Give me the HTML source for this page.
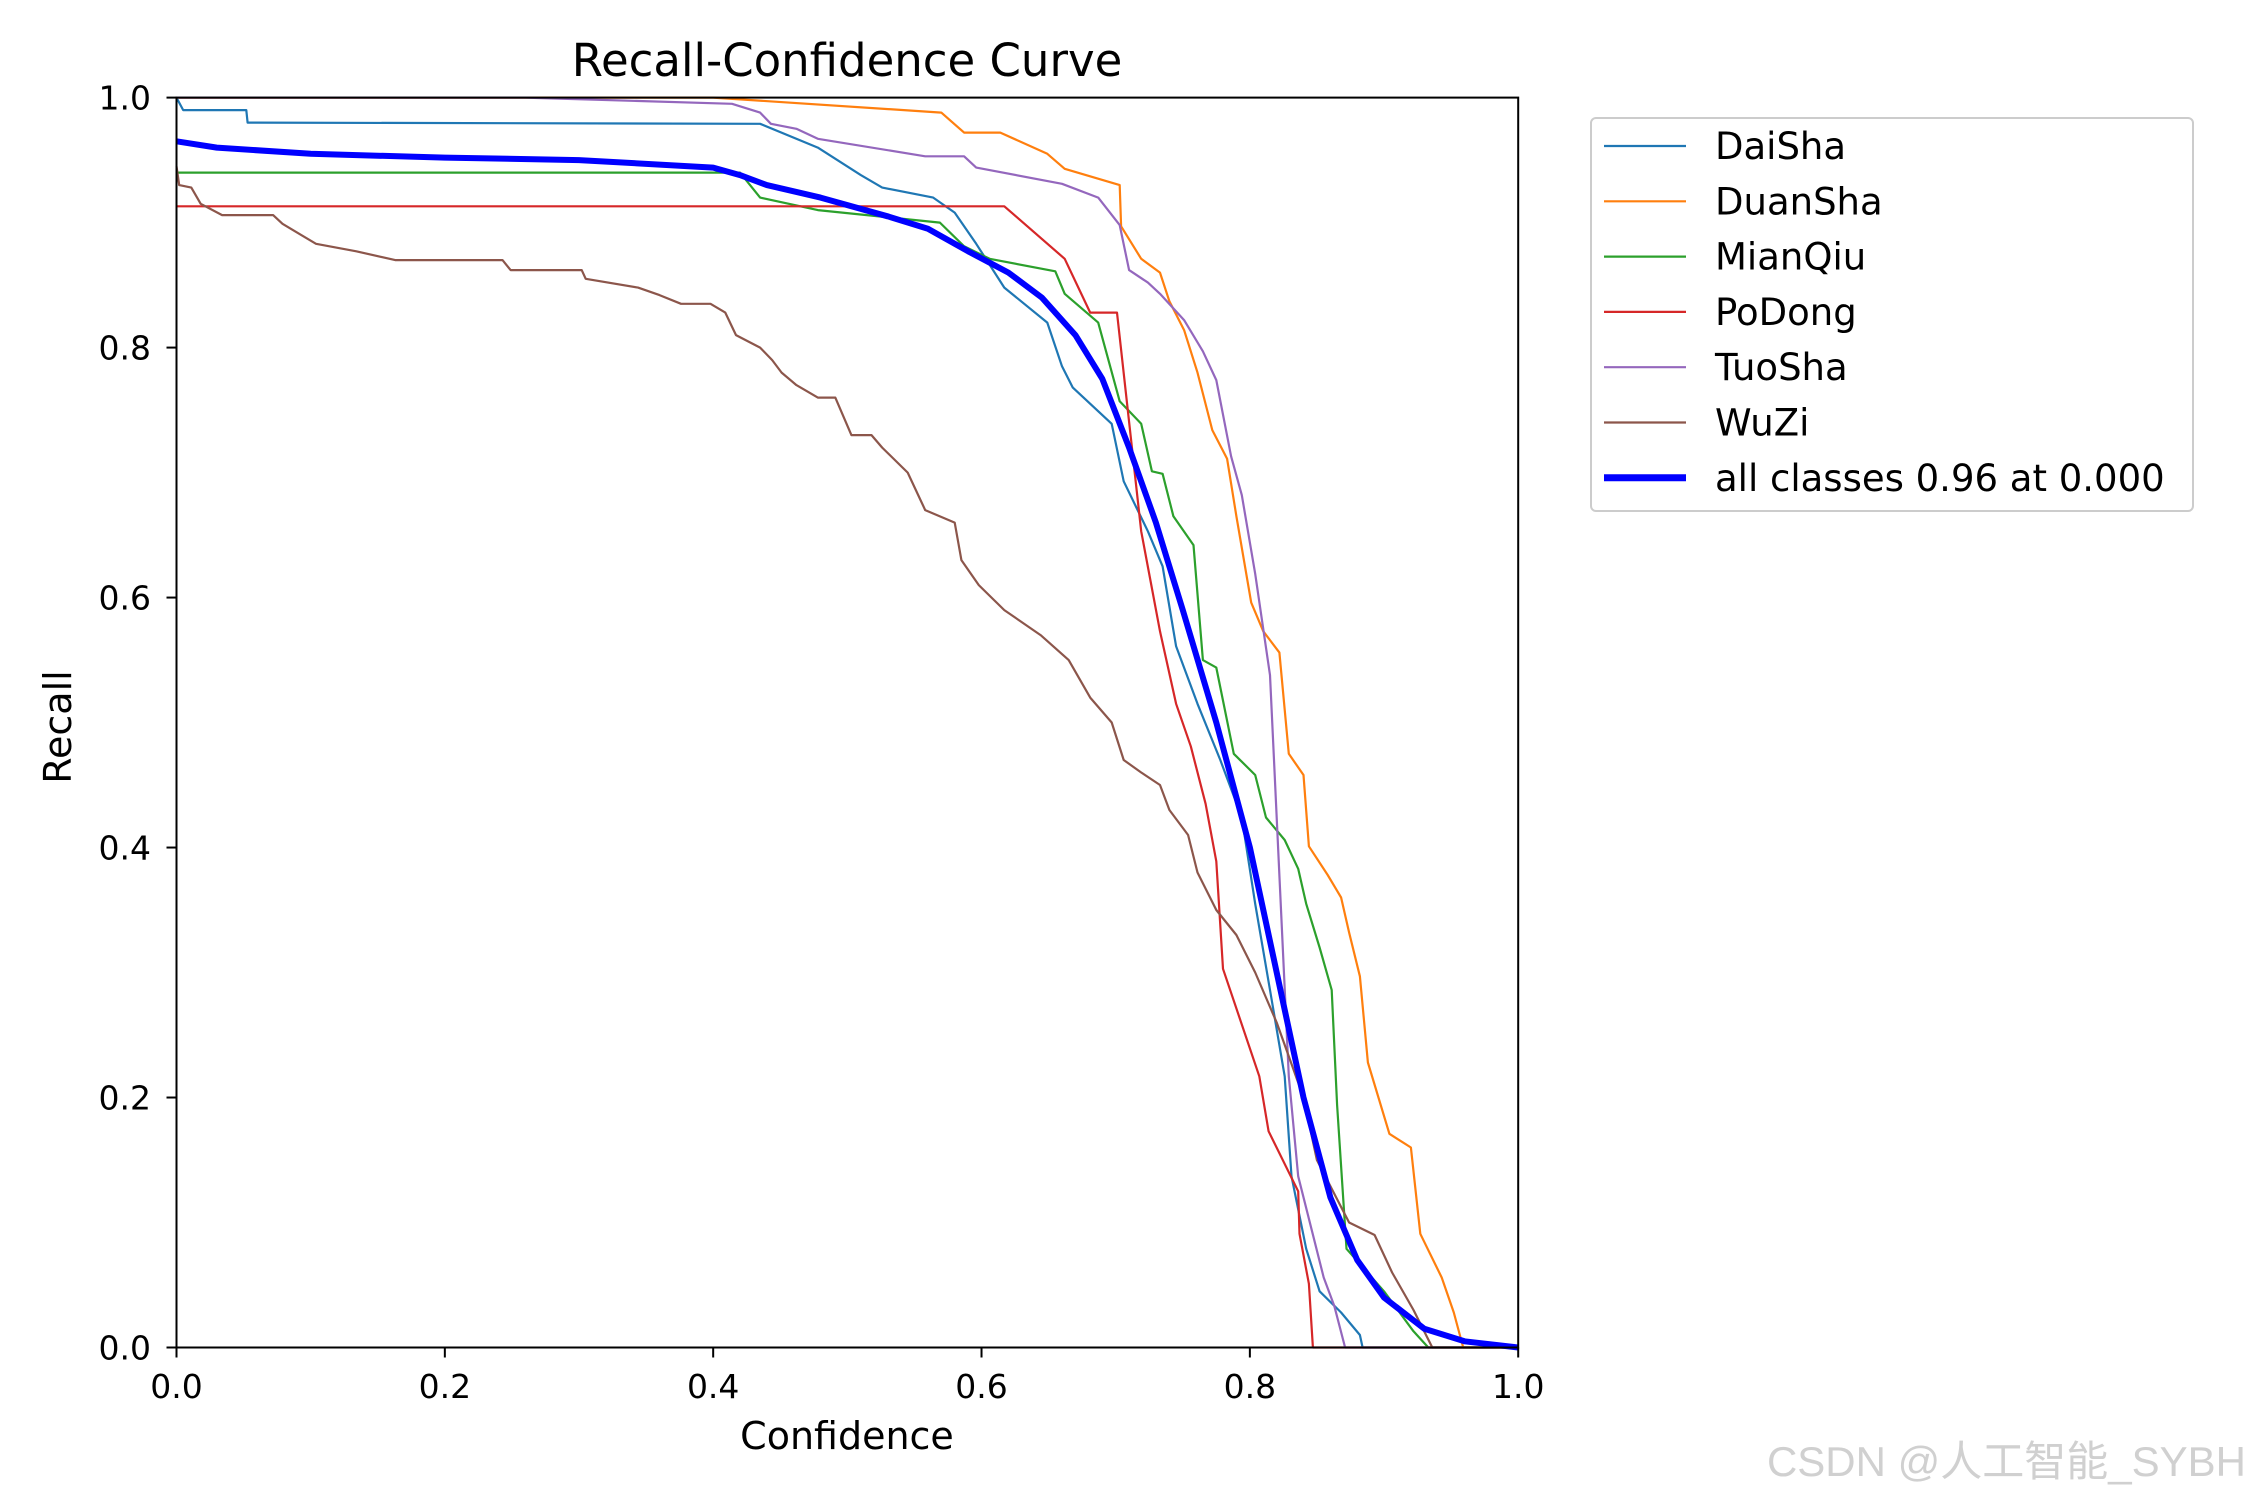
<!DOCTYPE html>
<html><head><meta charset="utf-8"><style>
html,body{margin:0;padding:0;background:#fff;}
svg{display:block;font-family:"DejaVu Sans","Liberation Sans",sans-serif;}
</style></head><body>
<svg id="chart" width="2250" height="1500" viewBox="0 0 2250 1500" xmlns="http://www.w3.org/2000/svg">
<rect width="2250" height="1500" fill="#fff"/>
<text x="847" y="76" font-size="45" text-anchor="middle">Recall-Confidence Curve</text>
<g id="series"></g>
<rect x="176.5" y="97.6" width="1341.7" height="1249.9" fill="none" stroke="#000" stroke-width="2"/>
<g id="ticks"></g>
<text x="847" y="1449" font-size="38" text-anchor="middle">Confidence</text>
<text transform="translate(71,727) rotate(-90)" font-size="38" text-anchor="middle">Recall</text>
<g>
<rect x="1591" y="118" width="602" height="393" rx="5" fill="#fff" stroke="#ccc" stroke-width="2"/>
<g id="legend-entries"></g>
</g>
<text x="2246" y="1476" font-size="42" text-anchor="end" fill="#d0d0d0" font-family="'Liberation Sans','Noto Sans CJK SC',sans-serif">CSDN @人工智能_SYBH</text>
</svg>
<script>
const seriesNames = ["DaiSha","DuanSha","MianQiu","PoDong","TuoSha","WuZi","all classes 0.96 at 0.000"];
const seriesColors = ["#1f77b4","#ff7f0e","#2ca02c","#d62728","#9467bd","#8c564b","#0000ff"];
const xTicks = [0,0.2,0.4,0.6,0.8,1.0];
const yTicks = [0,0.2,0.4,0.6,0.8,1.0];
const tickLabels = ["0.0","0.2","0.4","0.6","0.8","1.0"];
const daiShaConf = [0,0.005,0.052,0.053,0.435,0.478,0.510,0.526,0.564,0.580,0.596,0.617,0.649,0.660,0.668,0.697,0.706,0.724,0.735,0.745,0.761,0.778,0.794,0.804,0.815,0.826,0.831,0.842,0.852,0.868,0.882,0.884,1.0];
const daiShaRecall = [1.0,0.99,0.99,0.98,0.979,0.96,0.938,0.928,0.92,0.908,0.883,0.848,0.82,0.785,0.768,0.739,0.693,0.653,0.625,0.561,0.515,0.47,0.424,0.355,0.286,0.217,0.137,0.079,0.045,0.028,0.01,0,0];
const duanShaConf = [0,0.4,0.57,0.587,0.614,0.649,0.662,0.703,0.704,0.719,0.733,0.74,0.751,0.761,0.772,0.783,0.79,0.801,0.81,0.822,0.829,0.84,0.844,0.858,0.868,0.874,0.882,0.888,0.904,0.92,0.927,0.943,0.952,0.959,1.0];
const duanShaRecall = [1.0,1.0,0.988,0.972,0.972,0.955,0.943,0.93,0.897,0.871,0.86,0.837,0.814,0.78,0.734,0.711,0.665,0.596,0.573,0.556,0.475,0.458,0.401,0.378,0.36,0.332,0.297,0.228,0.171,0.16,0.091,0.056,0.028,0,0];
const mianQiuConf = [0,0.42,0.435,0.478,0.569,0.587,0.606,0.655,0.662,0.687,0.703,0.719,0.727,0.735,0.743,0.758,0.765,0.775,0.788,0.804,0.812,0.826,0.836,0.842,0.852,0.861,0.865,0.872,0.9,0.922,0.933,1.0];
const mianQiuRecall = [0.94,0.94,0.92,0.91,0.9,0.881,0.871,0.861,0.843,0.82,0.757,0.739,0.701,0.699,0.665,0.642,0.55,0.544,0.475,0.458,0.424,0.406,0.383,0.355,0.32,0.286,0.194,0.079,0.045,0.013,0,0];
const poDongConf = [0,0.617,0.662,0.681,0.701,0.719,0.733,0.745,0.756,0.767,0.775,0.78,0.807,0.814,0.836,0.837,0.844,0.847,1.0];
const poDongRecall = [0.913,0.913,0.871,0.828,0.828,0.653,0.573,0.515,0.481,0.435,0.389,0.303,0.217,0.173,0.125,0.091,0.051,0,0];
const tuoShaConf = [0,0.26,0.414,0.435,0.443,0.462,0.478,0.558,0.587,0.596,0.66,0.687,0.703,0.71,0.724,0.733,0.751,0.765,0.775,0.786,0.794,0.804,0.815,0.818,0.829,0.836,0.855,0.863,0.871,1.0];
const tuoShaRecall = [1.0,1.0,0.995,0.988,0.979,0.975,0.967,0.953,0.953,0.944,0.931,0.92,0.898,0.862,0.852,0.843,0.822,0.797,0.774,0.713,0.682,0.619,0.538,0.47,0.217,0.137,0.056,0.033,0,0];
const wuZiConf = [0,0.002,0.011,0.018,0.034,0.072,0.079,0.093,0.104,0.134,0.163,0.243,0.249,0.302,0.305,0.344,0.36,0.376,0.398,0.409,0.417,0.435,0.444,0.451,0.462,0.478,0.491,0.503,0.518,0.526,0.545,0.558,0.58,0.585,0.598,0.617,0.644,0.665,0.681,0.697,0.706,0.719,0.733,0.74,0.754,0.761,0.775,0.79,0.804,0.82,0.84,0.85,0.874,0.893,0.906,0.922,0.936,1.0];
const wuZiRecall = [0.945,0.93,0.928,0.915,0.906,0.906,0.899,0.89,0.883,0.877,0.87,0.87,0.862,0.862,0.855,0.848,0.842,0.835,0.835,0.828,0.81,0.8,0.79,0.78,0.77,0.76,0.76,0.73,0.73,0.72,0.7,0.67,0.66,0.63,0.61,0.59,0.57,0.55,0.52,0.5,0.47,0.46,0.45,0.43,0.41,0.38,0.35,0.33,0.3,0.26,0.2,0.15,0.1,0.09,0.06,0.03,0,0];
const allConf = [0,0.03,0.1,0.2,0.3,0.4,0.42,0.44,0.48,0.53,0.56,0.59,0.62,0.645,0.67,0.69,0.71,0.73,0.75,0.775,0.8,0.82,0.84,0.86,0.88,0.9,0.93,0.96,1.0];
const allRecall = [0.965,0.96,0.955,0.952,0.95,0.944,0.938,0.93,0.92,0.905,0.895,0.877,0.86,0.84,0.81,0.775,0.72,0.66,0.59,0.5,0.4,0.3,0.2,0.12,0.07,0.04,0.015,0.005,0.0];

const X0=176.5,X1=1518.2,Y0=1347.5,Y1=97.6;
function xs(v){return X0+v*(X1-X0);}
function ys(v){return Y0-v*(Y0-Y1);}
const NS="http://www.w3.org/2000/svg";
const confs=[daiShaConf,duanShaConf,mianQiuConf,poDongConf,tuoShaConf,wuZiConf,allConf];
const recs=[daiShaRecall,duanShaRecall,mianQiuRecall,poDongRecall,tuoShaRecall,wuZiRecall,allRecall];
const sg=document.getElementById('series');
for(let i=0;i<confs.length;i++){
  const p=document.createElementNS(NS,'polyline');
  p.setAttribute('points',confs[i].map((c,j)=>xs(c).toFixed(1)+','+ys(recs[i][j]).toFixed(1)).join(' '));
  p.setAttribute('fill','none');
  p.setAttribute('stroke',seriesColors[i]);
  p.setAttribute('stroke-width',i===6?'6':'2.2');
  p.setAttribute('stroke-linejoin','round');
  
  
  sg.appendChild(p);
}
const tg=document.getElementById('ticks');
xTicks.forEach((v,i)=>{
  const l=document.createElementNS(NS,'line');
  l.setAttribute('x1',xs(v));l.setAttribute('x2',xs(v));l.setAttribute('y1',Y0);l.setAttribute('y2',Y0+10);
  l.setAttribute('stroke','#000');l.setAttribute('stroke-width','2');
  
  
  tg.appendChild(l);
  const t=document.createElementNS(NS,'text');
  t.setAttribute('x',xs(v));t.setAttribute('y',1398);t.setAttribute('font-size','33');t.setAttribute('text-anchor','middle');
  t.textContent=tickLabels[i];
  
  
  tg.appendChild(t);
});
yTicks.forEach((v,i)=>{
  const l=document.createElementNS(NS,'line');
  l.setAttribute('x1',X0-10);l.setAttribute('x2',X0);l.setAttribute('y1',ys(v));l.setAttribute('y2',ys(v));
  l.setAttribute('stroke','#000');l.setAttribute('stroke-width','2');
  
  
  tg.appendChild(l);
  const t=document.createElementNS(NS,'text');
  t.setAttribute('x',151);t.setAttribute('y',ys(v)+12);t.setAttribute('font-size','33');t.setAttribute('text-anchor','end');
  t.textContent=tickLabels[i];
  
  
  tg.appendChild(t);
});
const lg=document.getElementById('legend-entries');
seriesNames.forEach((n,i)=>{
  const y=146+i*55.3;
  const l=document.createElementNS(NS,'line');
  l.setAttribute('x1',1604);l.setAttribute('x2',1686);l.setAttribute('y1',y);l.setAttribute('y2',y);
  l.setAttribute('stroke',seriesColors[i]);l.setAttribute('stroke-width',i===6?'7':'2.2');
  
  
  lg.appendChild(l);
  const t=document.createElementNS(NS,'text');
  t.setAttribute('x',1715);t.setAttribute('y',y+13);t.setAttribute('font-size','37');
  t.textContent=n;
  
  
  lg.appendChild(t);
});
</script>
</body></html>
